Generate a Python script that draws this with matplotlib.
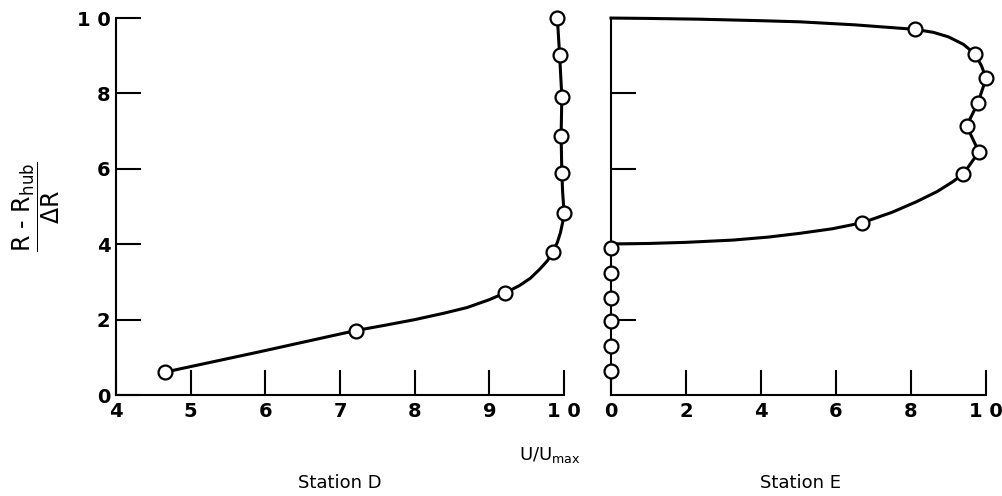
import matplotlib
matplotlib.use("Agg")
import matplotlib.pyplot as plt

plt.rcParams['font.family'] = ['DejaVu Sans']
plt.rcParams['mathtext.fontset'] = 'dejavusans'

# Station D - measured points (U/Umax, (R-Rhub)/dR)
d_u = [0.466, 0.721, 0.921, 0.985, 1.000, 0.997, 0.996, 0.997, 0.994, 0.991]
d_r = [0.061, 0.171, 0.271, 0.380, 0.484, 0.590, 0.688, 0.791, 0.902, 1.000]
# faired curve through station D
d_curve_u = [0.466, 0.593, 0.721, 0.760, 0.800, 0.839, 0.870, 0.900, 0.921, 0.940,
             0.955, 0.968, 0.978, 0.985, 0.991, 0.995, 0.998, 1.000, 0.998, 0.997,
             0.996, 0.997, 0.994, 0.991]
d_curve_r = [0.061, 0.115, 0.171, 0.185, 0.200, 0.217, 0.232, 0.253, 0.271, 0.290,
             0.310, 0.335, 0.357, 0.380, 0.405, 0.430, 0.457, 0.484, 0.540, 0.590,
             0.688, 0.791, 0.902, 1.000]

# Station E - measured points
e_u = [0.811, 0.971, 1.000, 0.978, 0.948, 0.981, 0.939, 0.670,
       0.0, 0.0, 0.0, 0.0, 0.0, 0.0]
e_r = [0.970, 0.904, 0.840, 0.774, 0.714, 0.645, 0.586, 0.457,
       0.389, 0.323, 0.258, 0.196, 0.130, 0.064]
# faired curve through station E
e_curve_u = [0.0, 0.100, 0.235, 0.400, 0.504, 0.650, 0.811, 0.860, 0.900, 0.940,
             0.971, 0.988, 1.000, 0.978, 0.948, 0.981, 0.939, 0.910, 0.870, 0.815,
             0.750, 0.670, 0.590, 0.504, 0.420, 0.325, 0.200, 0.100, 0.020, 0.0]
e_curve_r = [1.000, 0.999, 0.997, 0.993, 0.990, 0.982, 0.970, 0.962, 0.950, 0.930,
             0.904, 0.873, 0.840, 0.774, 0.714, 0.645, 0.586, 0.565, 0.540, 0.513,
             0.485, 0.457, 0.441, 0.429, 0.419, 0.411, 0.405, 0.402, 0.401, 0.400]

d_ticks = [0.4, 0.5, 0.6, 0.7, 0.8, 0.9, 1.0]
d_ticklabels = ['4', '5', '6', '7', '8', '9', '1 0']
e_ticks = [0.0, 0.2, 0.4, 0.6, 0.8, 1.0]
e_ticklabels = ['0', '2', '4', '6', '8', '1 0']
r_ticks = [0.0, 0.2, 0.4, 0.6, 0.8, 1.0]
r_ticklabels = ['0', '2', '4', '6', '8', '1 0']

fig = plt.figure(figsize=(10.03, 4.96), dpi=100)
ax1 = fig.add_axes([0.1157, 0.2036, 0.4467, 0.760])
ax2 = fig.add_axes([0.6092, 0.2036, 0.3739, 0.760])

for ax in (ax1, ax2):
    for side in ('top', 'right'):
        ax.spines[side].set_visible(False)
    for side in ('left', 'bottom'):
        ax.spines[side].set_linewidth(1.5)
    ax.set_ylim(0, 1.0)
    ax.tick_params(direction='in', length=18, width=1.5, labelsize=14)
    ax.tick_params(axis='x', pad=5)
    ax.tick_params(axis='y', pad=4)

mk = dict(marker='o', markersize=10, markerfacecolor='white', markeredgecolor='black',
          markeredgewidth=1.6, linestyle='none', clip_on=False, zorder=3)

ax1.plot(d_curve_u, d_curve_r, color='black', linewidth=2.2, clip_on=False,
         solid_joinstyle='round')
ax1.plot(d_u, d_r, **mk)
ax1.set_xlim(0.4, 1.0)
ax1.set_xticks(d_ticks)
ax1.set_xticklabels(d_ticklabels, fontweight='bold')
ax1.set_yticks(r_ticks)
ax1.set_yticklabels(r_ticklabels, fontweight='bold')

ax2.plot(e_curve_u, e_curve_r, color='black', linewidth=2.2, clip_on=False,
         solid_joinstyle='round')
ax2.plot(e_u, e_r, **mk)
ax2.set_xlim(0.0, 1.0)
ax2.set_xticks(e_ticks)
ax2.set_xticklabels(e_ticklabels, fontweight='bold')
ax2.set_yticks(r_ticks[1:-1])
ax2.tick_params(axis='y', labelleft=False)

fig.text(0.036, 0.583, r'$\dfrac{\text{R - R}_{\text{hub}}}{\Delta\text{R}}$',
         rotation=90, ha='center', va='center', fontsize=17)
fig.text(0.548, 0.082, r'U/U$_{\text{max}}$', ha='center', va='center', fontsize=13)
fig.text(0.339, 0.026, 'Station D', ha='center', va='center', fontsize=13)
fig.text(0.798, 0.026, 'Station E', ha='center', va='center', fontsize=13)

fig.savefig('out.png', dpi=100)
